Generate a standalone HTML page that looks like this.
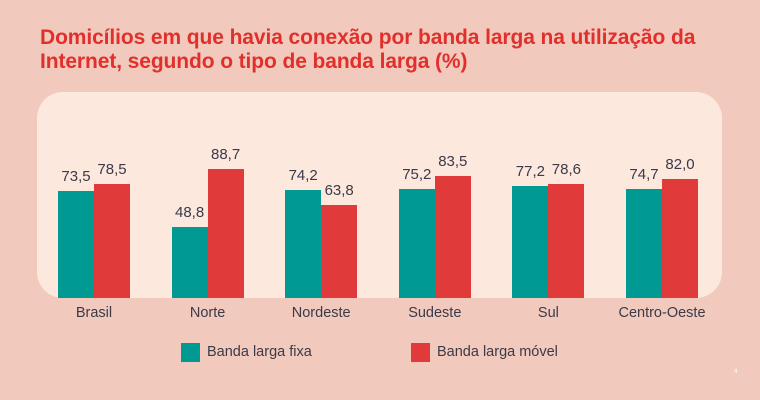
<!DOCTYPE html>
<html><head><meta charset="utf-8"><style>
body{margin:0;width:760px;height:400px;background:#f2c9bd;font-family:"Liberation Sans",sans-serif;overflow:hidden;position:relative}
.t{position:absolute;left:40px;top:26px;color:#e1302c;font-weight:bold;font-size:21px;line-height:24px;letter-spacing:-0.1px}
.p{position:absolute;left:37px;top:92px;width:685px;height:206px;background:#fde8de;border-radius:26px}
.b{position:absolute;width:36px}
.f{background:#009a93}.m{background:#e03a3a}
.v{position:absolute;width:50px;text-align:center;font-size:15px;color:#3a3a48}
.c{position:absolute;width:120px;text-align:center;font-size:14.5px;color:#3a3a48;top:305px}
.lg{position:absolute;width:19px;height:19px;top:343px}
.lt{position:absolute;top:344px;font-size:14.5px;color:#3a3a48}
</style></head><body>
<div class="t">Domicílios em que havia conexão por banda larga na utilização da<br>Internet, segundo o tipo de banda larga (%)</div>
<div class="p"></div>
<div id="g"></div>
<script>
var d=[["Brasil",73.5,78.5],["Norte",48.8,88.7],["Nordeste",74.2,63.8],["Sudeste",75.2,83.5],["Sul",77.2,78.6],["Centro-Oeste",74.7,82.0]];
var h="",base=298,s=1.456;
d.forEach(function(r,i){var c=94+i*113.6;
[[r[1],c-36,"f"],[r[2],c,"m"]].forEach(function(b){var ht=b[0]*s;
h+='<div class="b '+b[2]+'" style="left:'+b[1]+'px;top:'+(base-ht)+'px;height:'+ht+'px"></div>';
h+='<div class="v" style="left:'+(b[1]-7)+'px;top:'+(base-ht-23)+'px">'+b[0].toFixed(1).replace(".",",")+'</div>';});
h+='<div class="c" style="left:'+(c-60)+'px">'+r[0]+'</div>';});
document.getElementById("g").innerHTML=h;
</script>
<div class="lg f" style="left:181px"></div><div class="lt" style="left:207px">Banda larga fixa</div>
<div class="lg m" style="left:411px"></div><div class="lt" style="left:437px">Banda larga móvel</div>
<div style="position:absolute;left:734px;top:369px;font-size:6px;color:#fff">4</div>
</body></html>
